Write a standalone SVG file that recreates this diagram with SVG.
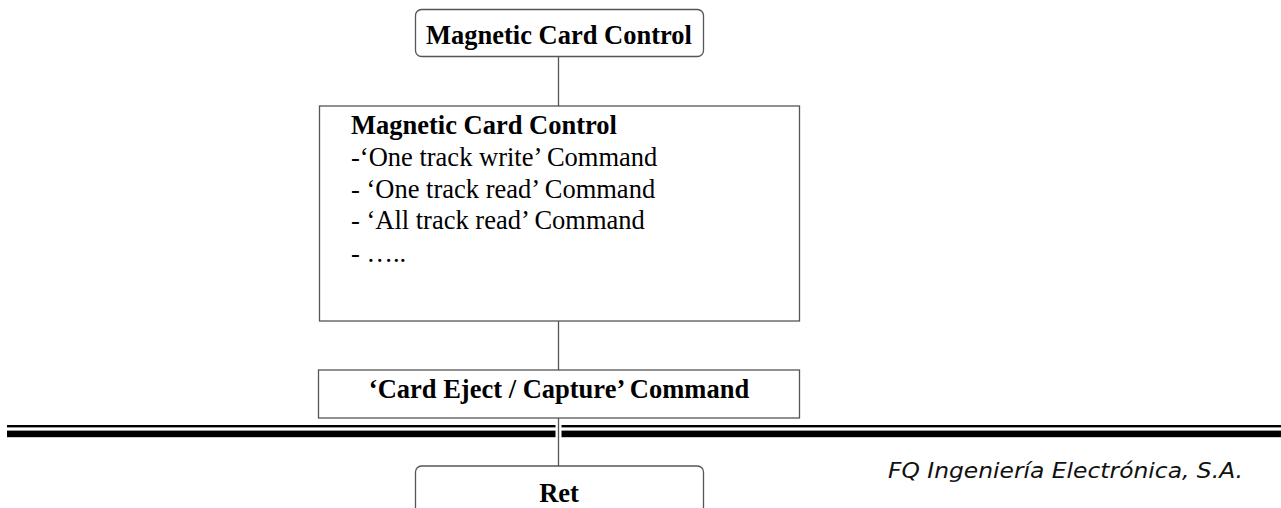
<svg xmlns="http://www.w3.org/2000/svg" width="1281" height="508" viewBox="0 0 1281 508">
<style>
.box{fill:#fff;stroke:#555;stroke-width:1.3}
.conn{stroke:#555;stroke-width:1.3;fill:none}
.t{font-family:"Liberation Serif","Times New Roman",serif;font-size:26.5px;fill:#000}
.b{font-weight:bold}
.c{text-anchor:middle}
.fq{font-family:"DejaVu Sans",Verdana,sans-serif;font-style:italic;font-size:20.5px;fill:#111}
</style>
<rect width="1281" height="508" fill="#fff"/>
<g id="rule">
<rect x="7" y="425" width="1274" height="2.4" fill="#000"/>
<rect x="7" y="430.6" width="1274" height="6.6" fill="#000"/>
<rect x="555.5" y="424" width="6" height="14" fill="#fff"/>
</g>
<g id="connectors">
<line class="conn" x1="558.5" y1="57" x2="558.5" y2="106"/>
<line class="conn" x1="558.5" y1="321" x2="558.5" y2="370"/>
<line class="conn" x1="558.5" y1="418" x2="558.5" y2="466"/>
</g>
<g id="n1">
<rect class="box" x="415.5" y="9.5" width="288" height="47" rx="6"/>
<text class="t b c" x="559" y="44">Magnetic Card Control</text>
</g>
<g id="n2">
<rect class="box" x="319.5" y="106" width="480" height="215"/>
<text class="t b" x="351" y="134">Magnetic Card Control</text>
<text class="t" x="351" y="166">-‘One track write’ Command</text>
<text class="t" x="351" y="198">- ‘One track read’ Command</text>
<text class="t" x="351" y="229">- ‘All track read’ Command</text>
<text class="t" x="351" y="262">- …..</text>
</g>
<g id="n3">
<rect class="box" x="318.5" y="370" width="481" height="48"/>
<text class="t b c" x="559" y="398">‘Card Eject / Capture’ Command</text>
</g>
<g id="n4">
<rect class="box" x="415.5" y="466" width="288" height="60" rx="6"/>
<text class="t b c" x="559" y="502">Ret</text>
</g>
<text class="fq" x="888" y="478" textLength="355" lengthAdjust="spacingAndGlyphs">FQ Ingeniería Electrónica, S.A.</text>
</svg>
